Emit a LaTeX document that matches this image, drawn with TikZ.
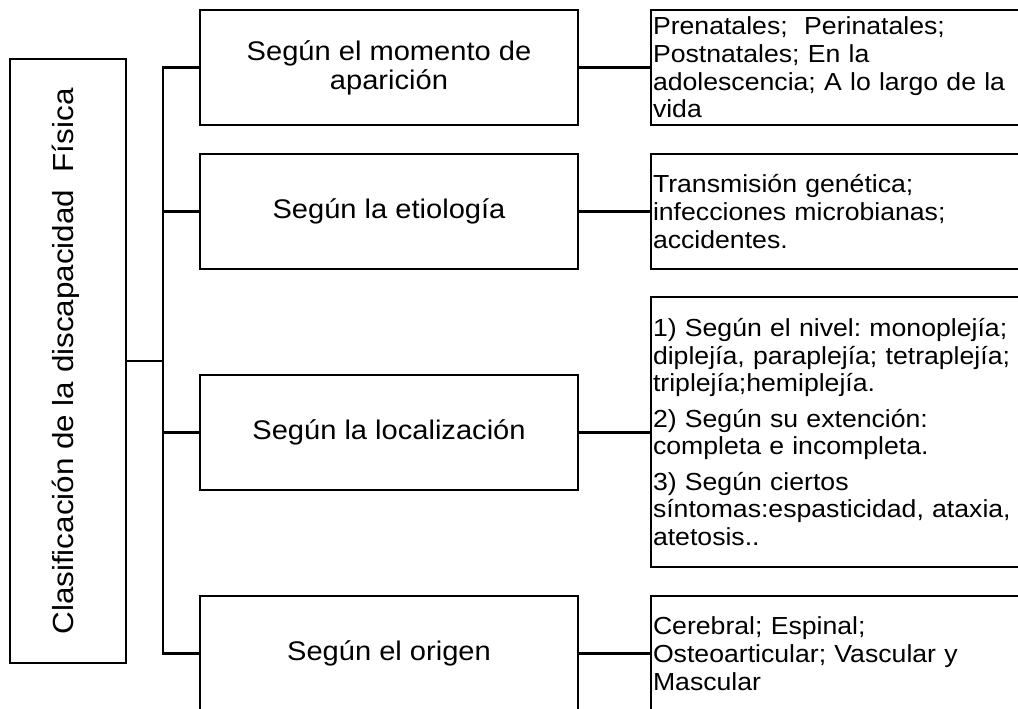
\documentclass[tikz,border=0pt]{standalone}
\usepackage{fontspec}
\setmainfont{Liberation Sans}[FakeStretch=1.08]
\frenchspacing
\begin{document}
\begin{tikzpicture}[x=0.75pt,y=-0.75pt,
  every node/.style={inner sep=0pt, outer sep=0pt},
  box/.style={draw=black, line width=1.8pt, rectangle},
  midbox/.style={box, minimum width=283.5pt, minimum height=86.25pt, align=center, font=\fontsize{20.2pt}{21.75pt}\selectfont},
  rightbox/.style={box, minimum height=86.25pt, text width=281.25pt, inner xsep=1.5pt, align=left, font=\fontsize{18.5pt}{20.8pt}\selectfont},
  link/.style={line width=1.8pt}]
\useasboundingbox (0,0) rectangle (1018,709);
\clip (0,0) rectangle (1018,709);

% left box
\node[box, minimum width=87pt, minimum height=453pt] (L) at (68,361) {};
\node[rotate=90, anchor=base, font=\fontsize{21.8pt}{24pt}\selectfont] (Lt) at (73,361.5) {Clasificación de la discapacidad\ \ Física};

% middle boxes
\node[midbox] (M1) at (389,67.5) {Según el momento de\\aparición};
\node[midbox] (M2) at (389,211.5) {Según la etiología};
\node[midbox] (M3) at (389,432.5) {Según la localización};
\node[midbox] (M4) at (389,653.5) {Según el origen};

% right boxes
\node[rightbox] (R1) at (840.5,67.5) {Prenatales;\ \ Perinatales;\\Postnatales; En la\\adolescencia; A lo largo de la\\vida};
\node[rightbox] (R2) at (840.5,211.5) {Transmisión genética;\\infecciones microbianas;\\accidentes.};
\node[rightbox, minimum height=202.5pt] (R3) at (840.5,432) {1) Según el nivel: monoplejía;\\diplejía, paraplejía; tetraplejía;\\triplejía;hemiplejía.\\[5.6pt]2) Según su extención:\\completa e incompleta.\\[5.6pt]3) Según ciertos\\síntomas:espasticidad, ataxia,\\atetosis..};
\node[rightbox] (R4) at (840.5,653.5) {Cerebral; Espinal;\\Osteoarticular; Vascular y\\Mascular};

% connectors
\coordinate (J) at (163,361);
\draw[link] (L.east) -- (J);
\draw[link] (M1.west) -- (M1.west -| J) -- (M4.west -| J) -- (M4.west);
\draw[link] (M2.west) -- (M2.west -| J);
\draw[link] (M3.west) -- (M3.west -| J);
\draw[link] (M1.east) -- (M1.east -| R1.west);
\draw[link] (M2.east) -- (M2.east -| R2.west);
\draw[link] (M3.east) -- (M3.east -| R3.west);
\draw[link] (M4.east) -- (M4.east -| R4.west);
\end{tikzpicture}
\end{document}
